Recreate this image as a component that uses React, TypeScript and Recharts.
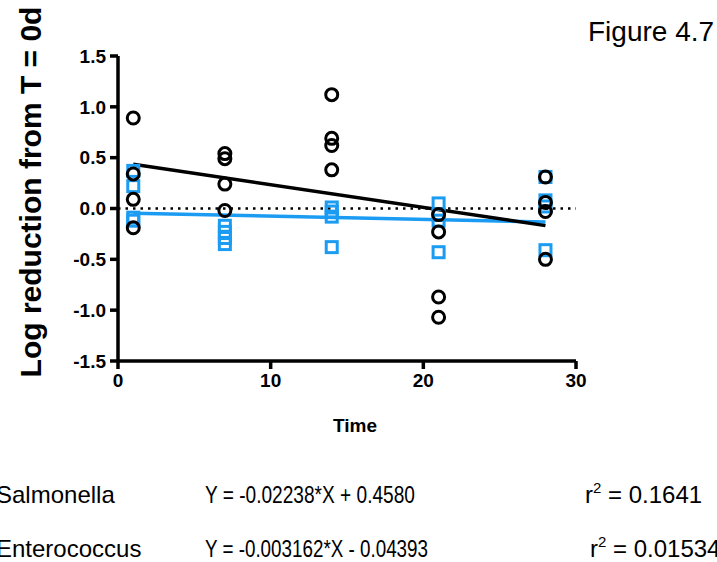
import { ComposedChart, Scatter, Line, XAxis, YAxis, ReferenceLine } from 'recharts'

// days sampled
const DAYS = [1, 7, 14, 21, 28]

// log reduction readings, four per day
const SALMONELLA = [
  [0.89, 0.34, 0.09, -0.19],
  [0.54, 0.49, 0.24, -0.02],
  [1.12, 0.69, 0.62, 0.38],
  [-0.06, -0.23, -0.87, -1.07],
  [0.31, 0.06, -0.03, -0.5],
]
const ENTEROCOCCUS = [
  [0.37, 0.22, -0.09, -0.12],
  [-0.17, -0.23, -0.29, -0.35],
  [0.01, -0.03, -0.08, -0.38],
  [0.05, -0.06, -0.12, -0.43],
  [0.31, 0.08, 0.02, -0.41],
]

// fitted line ends (x = 1 and x = 28)
const SAL_FIT = [
  { x: 1, y: 0.4356 },
  { x: 28, y: -0.1686 },
]
const ENT_FIT = [
  { x: 1, y: -0.0471 },
  { x: 28, y: -0.1325 },
]

const X_TICKS = [0, 10, 20, 30]
const Y_TICKS = [-1.5, -1, -0.5, 0, 0.5, 1, 1.5]

const BLUE = '#1b9cf2'
const FONT = '"Liberation Sans", Arial, sans-serif'

const toPoints = (rows: number[][]) =>
  rows.flatMap((vals, i) => vals.map((y) => ({ x: DAYS[i], y })))

const salPoints = toPoints(SALMONELLA)
const entPoints = toPoints(ENTEROCOCCUS)

const Ring = (props: any) => (
  <circle cx={props.cx} cy={props.cy} r={6} fill="none" stroke="#000" strokeWidth={3} />
)

const Box = (props: any) => (
  <rect x={props.cx - 5.5} y={props.cy - 5.5} width={11} height={11} fill="none" stroke={BLUE} strokeWidth={3} />
)

const tickStyle = { fontSize: 19, fontWeight: 'bold', fill: '#000', fontFamily: FONT }

export default function App() {
  return (
    <div style={{ position: 'absolute', left: 0, top: 0, width: 717, height: 562, background: '#fff', overflow: 'hidden' }}>
      <ComposedChart width={717} height={562} margin={{ top: 56, right: 141, bottom: 161, left: 58 }}>
        <XAxis
          type="number"
          dataKey="x"
          domain={[0, 30]}
          ticks={X_TICKS}
          allowDataOverflow
          tick={tickStyle}
          tickSize={8}
          tickMargin={5}
          height={40}
          axisLine={{ stroke: '#000', strokeWidth: 3.5 }}
          tickLine={{ stroke: '#000', strokeWidth: 3.5 }}
        />
        <YAxis
          type="number"
          dataKey="y"
          domain={[-1.5, 1.5]}
          ticks={Y_TICKS}
          allowDataOverflow
          tickFormatter={(v: number) => v.toFixed(1)}
          tick={tickStyle}
          tickSize={8}
          tickMargin={4}
          width={60}
          axisLine={{ stroke: '#000', strokeWidth: 3.5 }}
          tickLine={{ stroke: '#000', strokeWidth: 3.5 }}
        />
        <ReferenceLine y={0} stroke="#000" strokeWidth={2.5} strokeDasharray="2.5 5" />
        <Scatter data={entPoints} shape={Box} isAnimationActive={false} />
        <Scatter data={salPoints} shape={Ring} isAnimationActive={false} />
        <Line data={ENT_FIT} dataKey="y" type="linear" stroke={BLUE} strokeWidth={3.5} dot={false} isAnimationActive={false} />
        <Line data={SAL_FIT} dataKey="y" type="linear" stroke="#000" strokeWidth={3.5} dot={false} isAnimationActive={false} />
      </ComposedChart>
      <svg width={717} height={562} style={{ position: 'absolute', left: 0, top: 0, pointerEvents: 'none' }} fontFamily={FONT}>
        <text x={41} y={192} transform="rotate(-90 41 192)" textAnchor="middle" fontSize={30} fontWeight="bold">
          Log reduction from T = 0d
        </text>
        <text x={355} y={432} textAnchor="middle" fontSize={19} fontWeight="bold">
          Time
        </text>
        <text x={588} y={41} fontSize={28}>
          Figure 4.7
        </text>
        <text x={-4} y={503} fontSize={24}>Salmonella</text>
        <text x={205} y={503} fontSize={24} textLength={210} lengthAdjust="spacingAndGlyphs">
          Y = -0.02238*X + 0.4580
        </text>
        <text x={585} y={503} fontSize={24}>
          r<tspan fontSize={15} dy={-10}>2</tspan>
          <tspan dy={10}> = 0.1641</tspan>
        </text>
        <text x={-4} y={557} fontSize={24}>Enterococcus</text>
        <text x={205} y={557} fontSize={24} textLength={223} lengthAdjust="spacingAndGlyphs">
          Y = -0.003162*X - 0.04393
        </text>
        <text x={590} y={557} fontSize={24}>
          r<tspan fontSize={15} dy={-10}>2</tspan>
          <tspan dy={10}> = 0.01534</tspan>
        </text>
      </svg>
    </div>
  )
}
